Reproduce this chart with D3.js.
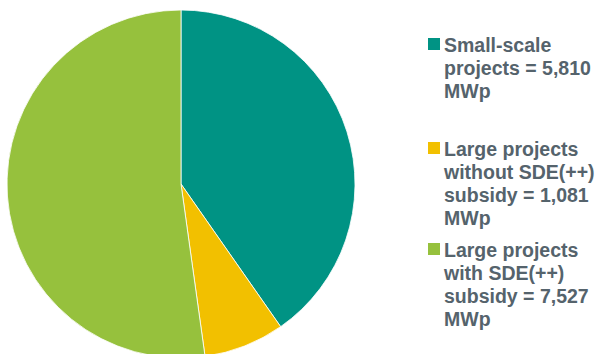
<!DOCTYPE html>
<html>
<head>
<meta charset="utf-8">
<script src="https://cdn.jsdelivr.net/npm/d3@7"></script>
<style>
  html, body { margin: 0; padding: 0; background: #fff; }
  svg { display: block; }
</style>
</head>
<body>
<svg id="chart" width="603" height="354"></svg>
<script>
// Installed PV capacity by project type (MWp)
const categories = ["Small-scale projects", "Large projects without SDE(++) subsidy", "Large projects with SDE(++) subsidy"];
const values = [5810, 1081, 7527];
const colors = ["#009384", "#f2c000", "#96c13d"];
const legendLines = [
  ["Small-scale", "projects = 5,810", "MWp"],
  ["Large projects", "without SDE(++)", "subsidy = 1,081", "MWp"],
  ["Large projects", "with SDE(++)", "subsidy = 7,527", "MWp"]
];

const svg = d3.select("#chart");
const cx = 181, cy = 184, radius = 174;

const pie = d3.pie().sort(null).value(d => d)(values);
const arc = d3.arc().innerRadius(0).outerRadius(radius);
const color = d3.scaleOrdinal().domain(d3.range(values.length)).range(colors);

svg.append("g")
  .attr("transform", `translate(${cx},${cy})`)
  .selectAll("path")
  .data(pie)
  .join("path")
  .attr("d", arc)
  .attr("fill", (d, i) => color(i))
  .attr("stroke", "#ffffff")
  .attr("stroke-width", 0.8);

// Legend
const legendTop = [52, 156, 257];
const lineH = 23;
const legend = svg.append("g")
  .attr("font-family", "'Liberation Sans', Arial, sans-serif")
  .attr("font-weight", "bold")
  .attr("font-size", 19.5)
  .attr("fill", "#55636c");

legendLines.forEach((lines, i) => {
  const g = legend.append("g");
  g.append("rect")
    .attr("x", 428).attr("y", legendTop[i] - 14)
    .attr("width", 12).attr("height", 12)
    .attr("fill", color(i));
  const t = g.append("text").attr("x", 444).attr("y", legendTop[i]);
  lines.forEach((ln, j) => {
    t.append("tspan").attr("x", 444).attr("y", legendTop[i] + j * lineH).text(ln);
  });
});
</script>
</body>
</html>
